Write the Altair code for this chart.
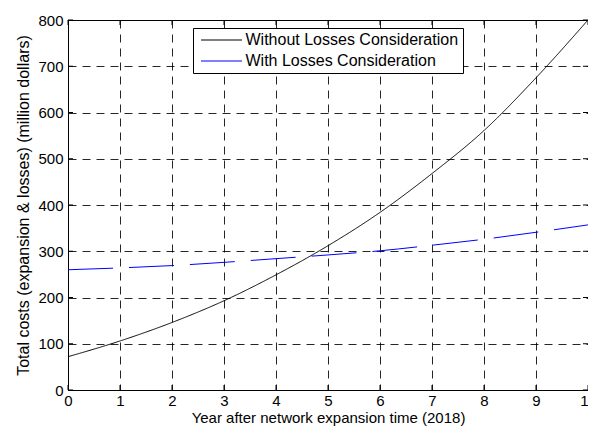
import altair as alt
import pandas as pd

years = list(range(0, 11))
without_losses = [72, 106, 146, 193, 249, 312, 384, 468, 561, 675, 800]
with_losses = [260, 264, 269, 276, 284, 292, 301, 313, 326, 341, 357]
series_names = ["Without Losses Consideration", "With Losses Consideration"]
series_colors = ["#000000", "#0000ff"]
x_ticks = list(range(0, 11))
y_ticks = list(range(0, 801, 100))
x_title = "Year after network expansion time (2018)"
y_title = "Total costs (expansion & losses) (million dollars)"

df = pd.DataFrame({
    "year": years * 2,
    "cost": without_losses + with_losses,
    "series": [series_names[0]] * len(years) + [series_names[1]] * len(years),
})
xt = pd.DataFrame({"year": x_ticks})
yt = pd.DataFrame({"cost": y_ticks})

W, H = 520, 370
FONT = "Liberation Sans"
TL = 5

x_scale = alt.Scale(domain=[0, 10], nice=False)
y_scale = alt.Scale(domain=[0, 800], nice=False)
x_axis = alt.Axis(values=x_ticks, title=x_title, grid=True, gridDash=[8, 6],
                  gridColor="black", gridOpacity=0.85, ticks=False, domain=False,
                  labelPadding=3, titlePadding=2, labelFlush=False, titleFontSize=15)
y_axis = alt.Axis(values=y_ticks, title=y_title, grid=True, gridDash=[8, 6],
                  gridColor="black", gridOpacity=0.85, ticks=False, domain=False,
                  labelPadding=5, titlePadding=6, titleFontSize=16)
X = alt.X("year:Q", scale=x_scale, axis=x_axis)
Y = alt.Y("cost:Q", scale=y_scale, axis=y_axis)

lines = alt.Chart(df).mark_line(interpolate="monotone", strokeWidth=1).encode(
    x=X, y=Y,
    color=alt.Color("series:N", scale=alt.Scale(domain=series_names, range=series_colors),
                    legend=alt.Legend(orient="none", legendX=125, legendY=8, title=None,
                                      symbolType="M-4,0H4", symbolSize=105, symbolStrokeWidth=1,
                                      symbolOffset=16.5, labelOffset=16, labelLimit=400,
                                      labelFont=FONT, labelFontSize=16, labelColor="black",
                                      strokeColor="black", fillColor="white", padding=4,
                                      rowPadding=5, cornerRadius=0)),
    strokeDash=alt.StrokeDash("series:N",
                              scale=alt.Scale(domain=series_names, range=[[1, 0], [45, 16]]),
                              legend=None),
)

bottom_ticks = alt.Chart(xt).mark_rule(color="black", strokeWidth=1).encode(
    x=X, y=alt.value(H), y2=alt.value(H - TL))
top_ticks = alt.Chart(xt).mark_rule(color="black", strokeWidth=1).encode(
    x=X, y=alt.value(0), y2=alt.value(TL))
left_ticks = alt.Chart(yt).mark_rule(color="black", strokeWidth=1).encode(
    y=Y, x=alt.value(0), x2=alt.value(TL))
right_ticks = alt.Chart(yt).mark_rule(color="black", strokeWidth=1).encode(
    y=Y, x=alt.value(W), x2=alt.value(W - TL))

chart = alt.layer(lines, bottom_ticks, top_ticks, left_ticks, right_ticks).properties(
    width=W, height=H,
    autosize=alt.AutoSizeParams(type="none"),
    padding={"left": 60, "top": 12, "right": 0, "bottom": 38},
    background="white",
).configure_view(stroke="black", strokeWidth=1).configure_axis(
    labelFont=FONT, labelFontSize=15, labelColor="black",
    titleFont=FONT, titleFontWeight="normal", titleColor="black",
)

chart.save("out.html", embed_options={"renderer": "svg", "actions": False})
